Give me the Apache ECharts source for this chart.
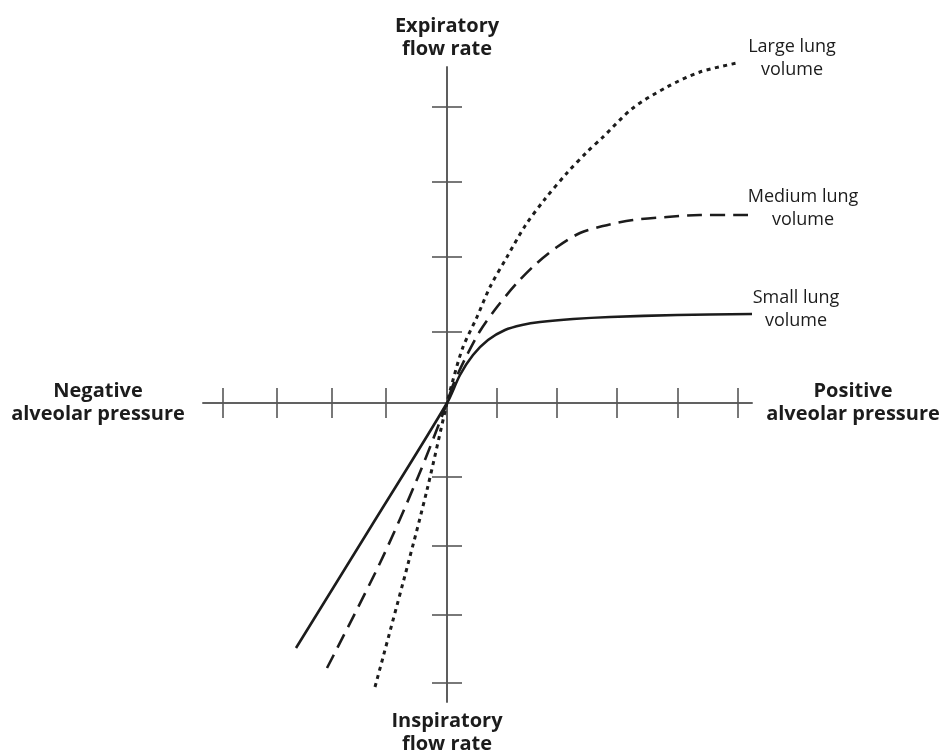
<!DOCTYPE html>
<html>
<head>
<meta charset="utf-8">
<title>Flow rate vs alveolar pressure</title>
<script src="https://cdn.jsdelivr.net/npm/echarts@6/dist/echarts.min.js"></script>
<style>
  html, body { margin: 0; padding: 0; background: #fff; }
  #chart { width: 942px; height: 754px; }
</style>
</head>
<body>
<div id="chart"></div>
<script>
// Arbitrary units, origin where the two axes cross.
const xRange = [-244, 305];
const yRange = [-299, 336];

// Tick marks along each axis (schematic, not evenly spaced)
const xTickValues = [-224.7, -170.3, -115.7, -61.3, 49.7, 109.7, 170, 230.3, 290.7];
const yTickValues = [-280, -212, -143, -74, 71, 146, 221, 296];

// Axis captions
const axisNames = {
  right: 'Positive\nalveolar pressure',
  left: 'Negative\nalveolar pressure',
  top: 'Expiratory\nflow rate',
  bottom: 'Inspiratory\nflow rate'
};

// Curve names
const curveNames = ['Small lung\nvolume', 'Medium lung\nvolume', 'Large lung\nvolume'];

// Flow rate against alveolar pressure for each lung volume
const smallLung = [
  [-151, -245], [-75, -122], [0, 0], [13, 28], [26, 48], [41, 63], [58, 73],
  [75, 78], [93, 81], [126, 84], [163, 86], [230, 88], [305, 89]
];
const mediumLung = [
  [-120, -265], [-67, -160], [-29, -74], [0, 0], [6, 18], [18, 44], [33, 72],
  [50, 96], [70, 120], [90, 140], [110, 156], [133, 170], [156, 177],
  [186, 183], [220, 186], [253, 188], [301, 188]
];
const largeLung = [
  [-72, -284], [-39, -161], [-20, -87], [0, 0], [6, 23], [16, 56], [30, 86],
  [43, 116], [60, 146], [78, 177], [98, 204], [120, 230], [140, 251],
  [155, 265], [186, 295], [220, 316], [253, 331], [290, 340]
];

const axisColor = '#575757';
const inkColor = '#1c1c1c';
const fontFamily = '"Open Sans", "Noto Sans", sans-serif';

const nameStyle = {
  color: inkColor, fontFamily: fontFamily, fontWeight: 'bold', fontSize: 20,
  lineHeight: 23, align: 'center', verticalAlign: 'middle'
};

function baseAxis(min, max, ticks) {
  return {
    type: 'value', min: min, max: max,
    axisLine: { show: true, onZero: true, lineStyle: { color: axisColor, width: 1.6 } },
    axisTick: { show: true, length: 15, customValues: ticks, lineStyle: { color: axisColor, width: 1.6 } },
    axisLabel: { show: false },
    splitLine: { show: false }
  };
}

function curveLabel(offset) {
  return {
    show: true,
    formatter: function (p) { return p.seriesName; },
    color: inkColor, fontFamily: fontFamily, fontSize: 18, lineHeight: 23,
    align: 'center', verticalAlign: 'middle', distance: 0, offset: offset
  };
}

function curve(name, data, lineStyle, labelOffset) {
  return {
    name: name, type: 'line', data: data, showSymbol: false,
    smooth: 0.3, clip: false,
    lineStyle: Object.assign({ color: inkColor, cap: 'butt', join: 'round' }, lineStyle),
    endLabel: curveLabel(labelOffset)
  };
}

const option = {
  animation: false,
  backgroundColor: '#ffffff',
  grid: { left: 203, right: 190, top: 67, bottom: 52, outerBoundsMode: 'none', containLabel: false },
  xAxis: [
    Object.assign(baseAxis(xRange[0], xRange[1], xTickValues), {
      position: 'bottom', name: axisNames.right, nameLocation: 'end', nameGap: 101,
      nameTextStyle: nameStyle
    }),
    Object.assign(baseAxis(xRange[0], xRange[1], xTickValues), {
      position: 'top', name: axisNames.left, nameLocation: 'start', nameGap: 105,
      nameTextStyle: nameStyle
    })
  ],
  yAxis: [
    Object.assign(baseAxis(yRange[0], yRange[1], yTickValues), {
      position: 'left', name: axisNames.top, nameLocation: 'end', nameGap: 29,
      nameTextStyle: nameStyle
    }),
    Object.assign(baseAxis(yRange[0], yRange[1], yTickValues), {
      position: 'right', name: axisNames.bottom, nameLocation: 'start', nameGap: 31,
      nameTextStyle: nameStyle
    })
  ],
  series: [
    curve(curveNames[0], smallLung, { width: 2.6, type: 'solid' }, [44, -5]),
    curve(curveNames[1], mediumLung, { width: 2.6, type: [15, 8] }, [55, -7]),
    curve(curveNames[2], largeLung, { width: 3, type: [4, 4.5] }, [55, -5])
  ]
};

const chart = echarts.init(document.getElementById('chart'), null, { renderer: 'canvas' });
chart.setOption(option);
</script>
</body>
</html>
